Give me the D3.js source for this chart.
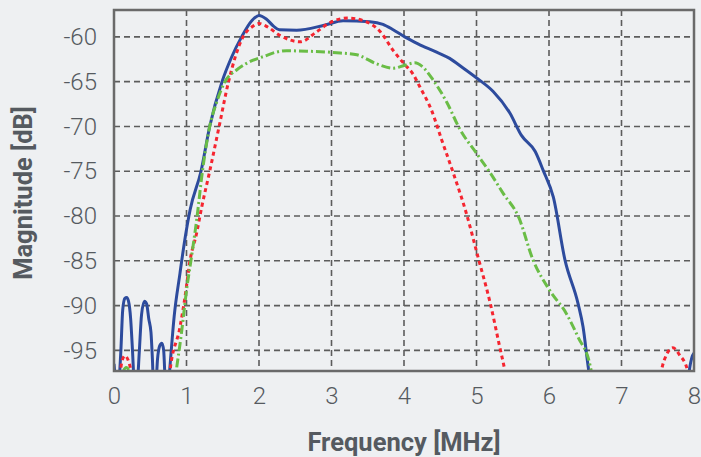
<!DOCTYPE html>
<html>
<head>
<meta charset="utf-8">
<script src="https://cdn.jsdelivr.net/npm/d3@7"></script>
<style>
  html, body { margin: 0; padding: 0; background: #eef0f2; }
  svg { display: block; }
  .tick text { font-family: Roboto, "Liberation Sans", sans-serif; font-weight: 300; font-size: 24px; fill: #555a60; }
  .titulo { font-family: Roboto, "Liberation Sans", sans-serif; font-weight: 700; font-size: 25.5px; fill: #555a60; }
</style>
</head>
<body>
<svg id="grafico"></svg>
<script>
// ticks
const ticksX = [0, 1, 2, 3, 4, 5, 6, 7, 8];
const ticksY = [-60, -65, -70, -75, -80, -85, -90, -95];

// curva azul (solida)
const freqAzul = [0, 0.03, 0.055, 0.075, 0.095, 0.12, 0.15, 0.175, 0.2, 0.23, 0.255, 0.28, 0.30, 0.32, 0.35, 0.38, 0.42, 0.45,
  0.48, 0.51, 0.53, 0.55, 0.57, 0.60, 0.63, 0.66, 0.685, 0.71, 0.74, 0.77, 0.83, 0.91, 0.97, 1.05, 1.2, 1.32, 1.49, 1.62, 1.76,
  1.9, 2.0, 2.1, 2.2, 2.28, 2.52, 2.9, 3.16, 3.53, 3.71, 3.85, 4.01, 4.2, 4.45, 4.63, 4.82, 5.02, 5.23, 5.46, 5.62, 5.81, 5.92,
  6.06, 6.22, 6.40, 6.47, 6.54, 6.6, 7.0, 7.5, 7.9, 7.94, 7.97, 8.0];
const magAzul = [-96.5, -99, -100, -98, -95, -90.5, -89.2, -89.1, -89.5, -91.5, -95, -99, -100, -99, -95, -91, -89.5, -89.8,
  -91.5, -93, -96, -100, -100, -96, -94.5, -94.2, -95, -99, -100, -97, -91.2, -86.4, -83, -79.3, -75, -70, -65, -62.3, -60,
  -58.2, -57.6, -58.0, -58.8, -59.2, -59.25, -58.7, -58.2, -58.3, -58.6, -59.2, -60, -60.8, -61.7, -62.4, -63.5, -64.7, -66.1, -68.5, -71, -72.8, -74.9,
  -77.9, -84.9, -89.75, -92.4, -96.8, -100, -105, -105, -100, -97, -95.8, -95.3];

// curva vermelha (pontilhada)
const freqVermelha = [0, 0.05, 0.08, 0.11, 0.15, 0.2, 0.24, 0.28, 0.6, 0.74, 0.77, 0.91, 0.98, 1.05, 1.14, 1.21, 1.32, 1.45,
  1.58, 1.78, 1.9, 2.0, 2.12, 2.28, 2.57, 2.8, 2.98, 3.23, 3.44, 3.67, 3.85, 4.0, 4.12, 4.22, 4.38, 4.52, 4.68, 4.86, 5.02,
  5.19, 5.32, 5.39, 5.45, 6.5, 7.5, 7.55, 7.62, 7.71, 7.8, 7.91, 7.97, 8.0];
const magVermelha = [-101, -100, -98, -96.2, -95.6, -96.2, -97.5, -100, -105, -100, -97.5, -92.4, -89, -84.9, -81.9, -79, -75, -70,
  -65, -60, -58.9, -58.5, -58.9, -59.8, -60.55, -59.4, -58.4, -57.9, -58.2, -59.4, -61.5, -63, -64.1, -65.6, -68.2, -71.5, -75.2, -79.7, -84.55,
  -89.75, -94.6, -97.2, -100, -105, -100, -97.3, -95.5, -94.7, -95.5, -97.2, -100, -101];

// curva verde (traco-ponto)
const freqVerde = [0, 0.1, 0.13, 0.17, 0.21, 0.24, 0.3, 0.7, 0.83, 0.86, 0.93, 1.0, 1.07, 1.14, 1.22, 1.32, 1.42, 1.53, 1.69,
  1.92, 2.06, 2.24, 2.38, 2.66, 3.12, 3.35, 3.62, 3.85, 4.0, 4.15, 4.25, 4.4, 4.59, 4.77, 5.0, 5.19, 5.37, 5.58, 5.78,
  6.01, 6.24, 6.40, 6.57, 6.62, 6.8];
const magVerde = [-101, -98.5, -97.3, -96.9, -97.3, -98.5, -102, -104, -99, -97.2, -93.1, -88.3, -84.5, -80.45, -75, -70, -67.2, -65, -63.7,
  -62.6, -62.2, -61.7, -61.55, -61.6, -61.8, -62.0, -63.0, -63.5, -63.2, -62.9, -63.3, -64.8, -67.3, -70.3, -73.0, -75.2, -77.5, -80.1, -84.9,
  -88.3, -90.9, -93.5, -96.8, -99, -103];

const series = [
  { nome: 'azul', freq: freqAzul, mag: magAzul, cor: '#2d4b9d', traco: null },
  { nome: 'vermelha', freq: freqVermelha, mag: magVermelha, cor: '#f52530', traco: '4,3.5' },
  { nome: 'verde', freq: freqVerde, mag: magVerde, cor: '#6abd46', traco: '9,3,2,3' }
];

const largura = 701, altura = 457;
const margem = { esq: 114, topo: 10, dir: 7, base: 86 };
const larguraPlotagem = largura - margem.esq - margem.dir;
const alturaPlotagem = altura - margem.topo - margem.base;

const svg = d3.select('#grafico')
  .attr('width', largura)
  .attr('height', altura);

svg.append('rect').attr('width', largura).attr('height', altura).attr('fill', '#eef0f2');

const plotagem = svg.append('g')
  .attr('transform', 'translate(' + margem.esq + ',' + margem.topo + ')');

const fnX = d3.scaleLinear().domain([0, 8]).range([0, larguraPlotagem]);
const fnY = d3.scaleLinear().domain([-97.3, -57]).range([alturaPlotagem, 0]);

plotagem.append('clipPath').attr('id', 'recorte')
  .append('rect').attr('width', larguraPlotagem).attr('height', alturaPlotagem);

// grade
plotagem.append('g')
  .selectAll('line')
  .data(ticksX.slice(1, -1))
  .enter().append('line')
  .attr('x1', d => fnX(d)).attr('x2', d => fnX(d))
  .attr('y1', 0).attr('y2', alturaPlotagem)
  .attr('stroke', '#5c5c5c').attr('stroke-width', 1.6).attr('stroke-dasharray', '6,4');

plotagem.append('g')
  .selectAll('line')
  .data(ticksY)
  .enter().append('line')
  .attr('x1', 0).attr('x2', larguraPlotagem)
  .attr('y1', d => fnY(d)).attr('y2', d => fnY(d))
  .attr('stroke', '#5c5c5c').attr('stroke-width', 1.6).attr('stroke-dasharray', '6,4');

// curvas
const linha = d3.line()
  .x(d => fnX(d[0]))
  .y(d => fnY(d[1]))
  .curve(d3.curveMonotoneX);

const curvas = plotagem.append('g').attr('clip-path', 'url(#recorte)');
series.forEach(s => {
  curvas.append('path')
    .datum(s.freq.map((f, i) => [f, s.mag[i]]))
    .attr('d', linha)
    .attr('fill', 'none')
    .attr('stroke', s.cor)
    .attr('stroke-width', 3)
    .attr('stroke-dasharray', s.traco);
});

// moldura
plotagem.append('rect')
  .attr('width', larguraPlotagem).attr('height', alturaPlotagem)
  .attr('fill', 'none').attr('stroke', '#6a6a6a').attr('stroke-width', 2.5);

// eixos
const eixoX = d3.axisBottom(fnX).tickValues(ticksX).tickSize(0).tickPadding(16).tickFormat(d => String(d));
plotagem.append('g')
  .attr('transform', 'translate(0,' + alturaPlotagem + ')')
  .call(eixoX)
  .call(g => g.select('.domain').remove());

const eixoY = d3.axisLeft(fnY).tickValues(ticksY).tickSize(0).tickPadding(17).tickFormat(d => String(d));
plotagem.append('g')
  .call(eixoY)
  .call(g => g.select('.domain').remove());

svg.selectAll('.tick text').attr('font-family', null).attr('font-size', null);

// titulos
svg.append('text')
  .classed('titulo', true)
  .attr('x', 404).attr('y', 451)
  .attr('text-anchor', 'middle')
  .text('Frequency [MHz]');

svg.append('text')
  .classed('titulo', true)
  .attr('transform', 'translate(32,193) rotate(-90)')
  .attr('text-anchor', 'middle')
  .text('Magnitude [dB]');
</script>
</body>
</html>
